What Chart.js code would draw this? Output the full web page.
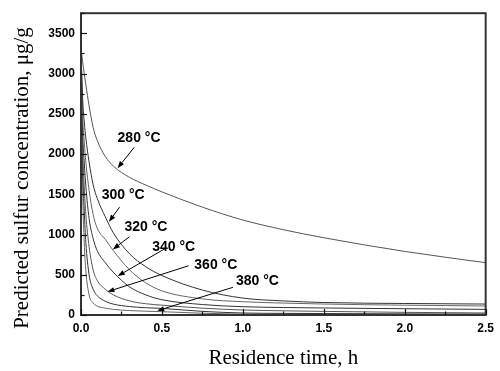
<!DOCTYPE html>
<html>
<head>
<meta charset="utf-8">
<script src="https://cdn.jsdelivr.net/npm/chart.js@4/dist/chart.umd.min.js"></script>
<style>
  html, body { margin: 0; padding: 0; background: #fff; }
  canvas { display: block; }
</style>
</head>
<body>
<canvas id="c" width="500" height="371"></canvas>
<script>
// Residence time, h
const times = [0, 0.01, 0.02, 0.03, 0.05, 0.075, 0.1, 0.15, 0.2, 0.3, 0.4, 0.5, 0.75, 1.0, 1.25, 1.5, 2.0, 2.5];
// Predicted sulfur concentration, ug/g
const s280 = [3300, 3150, 3000, 2860, 2600, 2330, 2170, 1970, 1850, 1710, 1615, 1530, 1340, 1180, 1060, 960, 790, 650];
const s300 = [3300, 2700, 2400, 2200, 1900, 1620, 1450, 1220, 1020, 760, 600, 490, 310, 210, 175, 155, 143, 136];
const s320 = [3300, 2500, 2150, 1900, 1550, 1250, 1080, 940, 800, 560, 400, 300, 200, 165, 148, 136, 122, 112];
const s340 = [3300, 2300, 1900, 1600, 1200, 950, 800, 650, 530, 350, 250, 190, 130, 103, 93, 87, 78, 70];
const s360 = [3300, 2100, 1600, 1250, 850, 560, 430, 320, 250, 175, 140, 122, 85, 62, 52, 45, 33, 25];
const s380 = [3300, 1900, 1300, 900, 500, 320, 240, 170, 135, 105, 90, 82, 45, 25, 20, 18, 14, 12];
const sLow = [3300, 1600, 900, 550, 250, 150, 110, 85, 70, 55, 47, 41, 22, 10, 7, 5, 4, 3];
const seriesNames = ['280 °C', '300 °C', '320 °C', '340 °C', '360 °C', '380 °C', ''];
const seriesValues = [s280, s300, s320, s340, s360, s380, sLow];
const xTicks = [0, 0.5, 1.0, 1.5, 2.0, 2.5];
const yTicks = [0, 500, 1000, 1500, 2000, 2500, 3000, 3500];

// label placement (data coordinates): text anchor, arrow start, arrow tip
const labels = [
  { text: '280 °C', tx: 0.226, ty: 2196, x1: 0.329, y1: 2084, x2: 0.226, y2: 1824 },
  { text: '300 °C', tx: 0.128, ty: 1489, x1: 0.238, y1: 1340, x2: 0.173, y2: 1158 },
  { text: '320 °C', tx: 0.268, ty: 1092, x1: 0.299, y1: 972,  x2: 0.197, y2: 815 },
  { text: '340 °C', tx: 0.440, ty: 848,  x1: 0.522, y1: 828,  x2: 0.227, y2: 484 },
  { text: '360 °C', tx: 0.700, ty: 620,  x1: 0.665, y1: 612,  x2: 0.163, y2: 289 },
  { text: '380 °C', tx: 0.957, ty: 422,  x1: 0.939, y1: 344,  x2: 0.471, y2: 53 }
];
const lineColors = ['#555', '#333', '#666', '#333', '#555', '#333', '#666'];

const datasets = seriesValues.map((vals, i) => ({
  label: seriesNames[i],
  data: times.map((t, j) => ({ x: t, y: vals[j] })),
  borderColor: lineColors[i],
  borderWidth: 1,
  pointRadius: 0,
  fill: false,
  cubicInterpolationMode: 'monotone'
}));

const decor = {
  id: 'decor',
  afterDatasetsDraw(chart) {
    const ctx = chart.ctx;
    const a = chart.chartArea;
    const xs = chart.scales.x, ys = chart.scales.y;
    ctx.save();
    // frame
    ctx.strokeStyle = '#333';
    ctx.lineWidth = 2;
    ctx.strokeRect(a.left, a.top, a.right - a.left, a.bottom - a.top);
    // inward ticks
    ctx.lineWidth = 1.2;
    ctx.strokeStyle = '#111';
    for (let v = 0; v <= 2.5001; v += 0.25) {
      const px = Math.round(xs.getPixelForValue(v)) + 0.5;
      const major = Math.abs(v / 0.5 - Math.round(v / 0.5)) < 1e-6;
      ctx.beginPath();
      ctx.moveTo(px, a.bottom);
      ctx.lineTo(px, a.bottom - (major ? 6 : 3.5));
      ctx.stroke();
    }
    for (let v = 0; v <= 3750; v += 250) {
      const py = Math.round(ys.getPixelForValue(v)) + 0.5;
      const major = v % 500 === 0;
      ctx.beginPath();
      ctx.moveTo(a.left, py);
      ctx.lineTo(a.left + (major ? 6 : 3.5), py);
      ctx.stroke();
    }
    // annotations
    ctx.fillStyle = '#000';
    ctx.strokeStyle = '#000';
    ctx.lineWidth = 1;
    ctx.font = 'bold 14px "Liberation Sans", Arial, sans-serif';
    ctx.textAlign = 'left';
    ctx.textBaseline = 'middle';
    labels.forEach(l => {
      ctx.fillText(l.text, xs.getPixelForValue(l.tx), ys.getPixelForValue(l.ty));
      const x1 = xs.getPixelForValue(l.x1), y1 = ys.getPixelForValue(l.y1);
      const x2 = xs.getPixelForValue(l.x2), y2 = ys.getPixelForValue(l.y2);
      const ang = Math.atan2(y2 - y1, x2 - x1);
      const L = 7, W = 2.6;
      const bx = x2 - L * Math.cos(ang), by = y2 - L * Math.sin(ang);
      ctx.beginPath();
      ctx.moveTo(x1, y1);
      ctx.lineTo(bx, by);
      ctx.stroke();
      ctx.beginPath();
      ctx.moveTo(x2, y2);
      ctx.lineTo(bx + W * Math.sin(ang), by - W * Math.cos(ang));
      ctx.lineTo(bx - W * Math.sin(ang), by + W * Math.cos(ang));
      ctx.closePath();
      ctx.fill();
    });
    // axis titles
    ctx.font = '21px "Liberation Serif", "Times New Roman", serif';
    ctx.textAlign = 'center';
    ctx.textBaseline = 'alphabetic';
    ctx.fillText('Residence time, h', (a.left + a.right) / 2, 364);
    ctx.translate(28, 178);
    ctx.rotate(-Math.PI / 2);
    ctx.fillText('Predicted sulfur concentration, μg/g', 0, 0);
    ctx.restore();
  }
};

new Chart(document.getElementById('c'), {
  type: 'line',
  data: { datasets },
  options: {
    responsive: false,
    devicePixelRatio: 1,
    animation: false,
    layout: { padding: { top: 12, right: 10, left: 0, bottom: 0 } },
    plugins: { legend: { display: false }, tooltip: { enabled: false } },
    scales: {
      x: {
        type: 'linear', min: 0, max: 2.5,
        afterFit: s => { s.height = 56; },
        afterBuildTicks: s => { s.ticks = xTicks.map(v => ({ value: v })); },
        grid: { display: false, drawTicks: false },
        border: { display: false },
        ticks: {
          padding: 6, color: '#000', maxRotation: 0,
          font: { family: '"Liberation Sans", Arial, sans-serif', size: 12, weight: 'bold' },
          callback: v => Number(v).toFixed(1)
        }
      },
      y: {
        type: 'linear', min: 0, max: 3750,
        afterFit: s => { s.width = 81; },
        afterBuildTicks: s => { s.ticks = yTicks.map(v => ({ value: v })); },
        grid: { display: false, drawTicks: false },
        border: { display: false },
        ticks: {
          padding: 6, color: '#000',
          font: { family: '"Liberation Sans", Arial, sans-serif', size: 12, weight: 'bold' },
          callback: v => String(v)
        }
      }
    }
  },
  plugins: [decor]
});
</script>
</body>
</html>
